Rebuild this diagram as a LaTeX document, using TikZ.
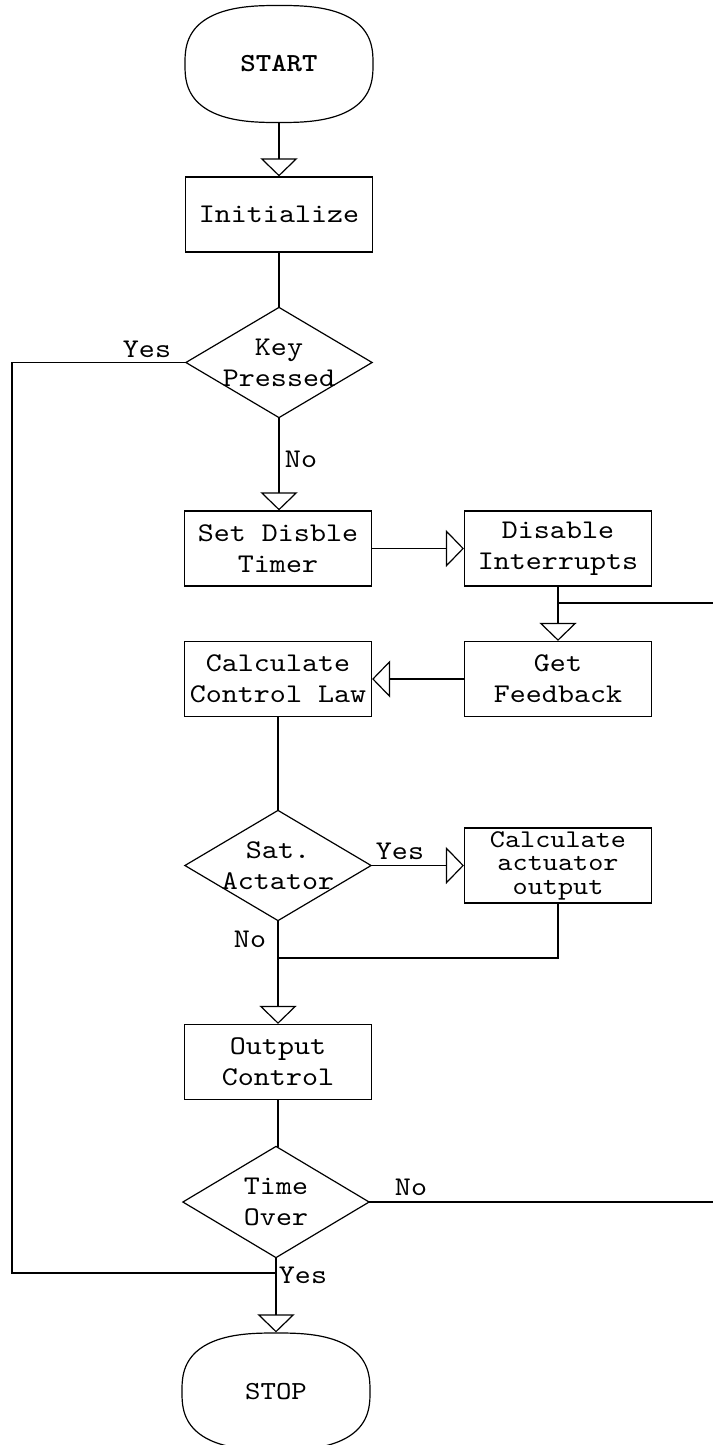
\documentclass[tikz,border=0pt]{standalone}
\usepackage{fontspec}
\newfontfamily\flowfont{lmmono10-regular.otf}[FakeStretch=1.13]
\newfontfamily\flowbold{lmmonolt10-bold.otf}[FakeStretch=1.13]
\usetikzlibrary{arrows.meta}

\begin{document}
\begin{tikzpicture}[x=1pt,y=-1pt,line width=1.2pt,
  every node/.style={font=\flowfont\fontsize{27}{31}\selectfont, align=center, inner sep=0pt},
  terminal/.style={minimum width=188pt, minimum height=117pt},
  process/.style={draw, minimum width=187pt, minimum height=75pt},
  decision/.style={minimum width=185pt, minimum height=109pt},
  flowarrow/.style={-{Triangle[open, width=37pt, length=18pt]}}
]
\useasboundingbox (0,0) rectangle (713,1445);
\clip (0,0) rectangle (713,1445);

% main column
\node[terminal, font=\flowbold\fontsize{26}{30}\selectfont] (start) at (279,64) {START};
\node[process] (init) at (279,214.5) {Initialize};
\node[decision] (key) at (279,362.5) {Key\\Pressed};
\node[process] (setdt) at (278,548.5) {Set Disble\\Timer};
\node[process] (ccl) at (278,679) {Calculate\\Control Law};
\node[decision] (sat) at (278,865.5) {Sat.\\Actator};
\node[process] (outc) at (278,1062) {Output\\Control};
\node[decision, minimum height=110pt] (time) at (276,1202) {Time\\Over};
\node[terminal, font=\flowfont\fontsize{26}{30}\selectfont] (stop) at (276,1391.5) {STOP};

% right column
\node[process] (disint) at (558,548.5) {Disable\\Interrupts};
\node[process] (getfb) at (558,679) {Get\\Feedback};
\node[process, font=\flowfont\fontsize{25.5}{23.5}\selectfont] (cao) at (558,865.5) {Calculate\\actuator\\output};

% terminal outlines (rounded superellipses)
\foreach \t in {start,stop}
  \draw[shift={(\t.center)}] plot[smooth, domain=1:361, samples=121]
    ({94*sign(cos(\x))*abs(cos(\x))^(0.75)}, {58.5*sign(sin(\x))*abs(sin(\x))^(0.75)}) -- cycle;

% decision outlines
\foreach \d in {key,sat,time}
  \draw (\d.north) -- (\d.east) -- (\d.south) -- (\d.west) -- cycle;

% connectors
\draw[flowarrow] (start.south) -- (init.north);
\draw (init.south) -- (key.north);
\draw[flowarrow] (key.south) -- (key.south |- setdt.north);
\draw[flowarrow] (setdt.east) -- (disint.west);
\draw[flowarrow] (disint.south) -- (getfb.north);
\coordinate (fbsplit) at (558,603);
\coordinate (rightA) at (713,603);
\draw (fbsplit) -- (rightA);
\draw[flowarrow] (getfb.west) -- (ccl.east);
\draw (ccl.south) -- (sat.north);
\draw[flowarrow] (sat.east) -- (cao.west);
\coordinate (merge) at (278,958);
\draw (cao.south) |- (merge);
\draw[flowarrow] (sat.south) -- (outc.north);
\draw (outc.south) -- (outc.south |- time.north) -- (time.north);
\coordinate (rightB) at (713,1202);
\draw (time.east) -- (rightB);
\coordinate (join) at (276,1273);
\coordinate (loopcorner) at (12,1273);
\draw (key.west) -| (loopcorner) -- (join);
\draw[flowarrow] (time.south) -- (stop.north);

% branch labels
\node (ykey) at (147,349) {Yes};
\node (nkey) at (301,459) {No};
\node (ysat) at (400,851) {Yes};
\node (nsat) at (250,939) {No};
\node (ntime) at (411,1187) {No};
\node (ytime) at (303,1275) {Yes};
\end{tikzpicture}
\end{document}
